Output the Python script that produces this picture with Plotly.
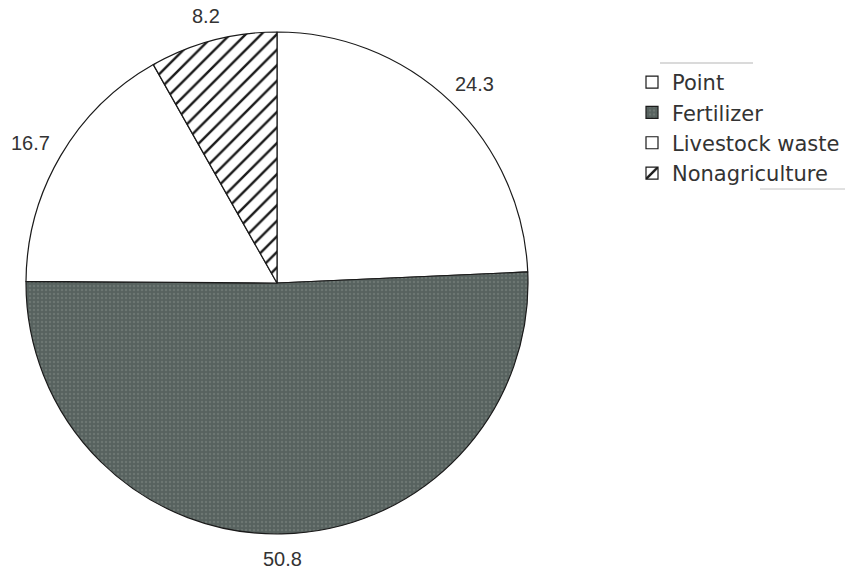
import math
import plotly.graph_objects as go

# Nitrogen load sources, percent share
sources = ["Point", "Fertilizer", "Livestock waste", "Nonagriculture"]
shares = [24.3, 50.8, 16.7, 8.2]

fill_colors = ["#ffffff", "#57625f", "#ffffff", "#ffffff"]
pattern_shapes = ["", ".", "", "/"]
pattern_fg = ["#1a1a1a", "#6c7672", "#1a1a1a", "#1a1a1a"]

W, H = 845, 576
cx, cy, r = 277, 283, 251          # pie centre and radius in pixels
label_gap = 15                     # gap between the rim and the nearest edge of a label
label_size = 20
label_font = dict(family="Liberation Sans, Arial, sans-serif", size=label_size, color="#333333")

fig = go.Figure(
    go.Pie(
        labels=sources,
        values=shares,
        sort=False,
        direction="clockwise",
        rotation=0,
        marker=dict(
            colors=fill_colors,
            line=dict(color="#1a1a1a", width=1.2),
            pattern=dict(shape=pattern_shapes, fgcolor=pattern_fg, bgcolor=fill_colors,
                         fillmode="replace", fgopacity=1,
                         size=[11, 4, 11, 11], solidity=[0.22, 0.3, 0.22, 0.22]),
        ),
        textinfo="none",
        domain=dict(
            x=[(cx - r) / W, (cx + r) / W],
            y=[(H - cy - r) / H, (H - cy + r) / H],
        ),
        hoverinfo="label+value",
    )
)

# value labels placed outside each slice, pushed out from the slice's mid angle
total = sum(shares)
annotations = []
start = 0.0
for v in shares:
    mid = (start + v / 2) / total * 2 * math.pi
    start += v
    txt = f"{v}"
    w = (sum(c.isdigit() for c in txt) * 0.556 + txt.count(".") * 0.278) * label_size
    h = label_size
    s, c = math.sin(mid), math.cos(mid)
    px = cx + (r + label_gap) * s + w / 2 * s
    py = cy - (r + label_gap) * c - h / 2 * c
    annotations.append(dict(
        x=px / W, y=1 - py / H, xref="paper", yref="paper",
        text=txt, showarrow=False, font=label_font,
        xanchor="center", yanchor="middle",
    ))

fig.update_layout(
    width=W,
    height=H,
    margin=dict(l=0, r=0, t=0, b=0),
    paper_bgcolor="white",
    plot_bgcolor="white",
    showlegend=True,
    legend=dict(
        x=632 / W,
        y=1 - 62 / H,
        xanchor="left",
        yanchor="top",
        font=dict(family="DejaVu Sans, sans-serif", size=21, color="#333333"),
        itemwidth=30,
        bgcolor="rgba(0,0,0,0)",
    ),
    annotations=annotations,
    shapes=[
        dict(type="line", xref="paper", yref="paper",
             x0=660 / W, x1=753 / W, y0=1 - 63 / H, y1=1 - 63 / H,
             line=dict(color="#b5b5b5", width=1)),
        dict(type="line", xref="paper", yref="paper",
             x0=760 / W, x1=845 / W, y0=1 - 189 / H, y1=1 - 189 / H,
             line=dict(color="#c2c2c2", width=1)),
    ],
)

fig.write_html("out.html")
